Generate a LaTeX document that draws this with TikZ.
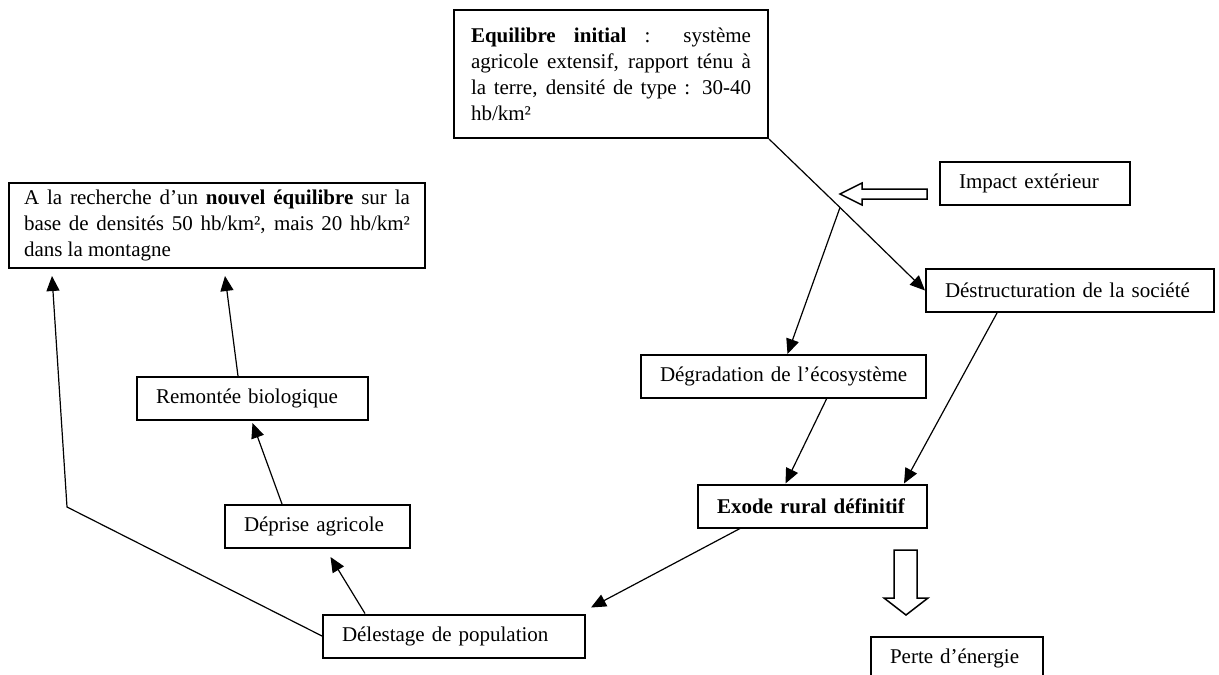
\documentclass[tikz,border=0pt]{standalone}
\usepackage{fontspec}
\setmainfont{Liberation Serif}
\usetikzlibrary{arrows.meta}

\begin{document}
\begin{tikzpicture}[x=1pt, y=-1pt, >={Triangle[length=15pt,width=13pt]},
  box/.style={draw, line width=2pt, inner xsep=19pt, inner ysep=0pt, minimum height=43pt, align=left, font=\fontsize{21}{26}\selectfont},
  para/.style={box, align=justify, execute at begin node={\tolerance=10000\relax\hyphenpenalty=10000\relax}},
  link/.style={line width=1.2pt},
  hollow/.style={draw, line width=1.5pt, fill=white}]
\useasboundingbox (0,0) rectangle (1219,675);

\node [para, text width=280pt, inner xsep=17pt, minimum height=128pt] (eq_0) at (611,74) {\textbf{Equilibre initial} : système\linebreak agricole extensif, rapport ténu à\linebreak la terre, densité de type : 30-40\linebreak hb/km²};
\node [para, text width=386pt, inner xsep=15pt, minimum height=85pt] (eq_1) at (217,225.5) {A la recherche d’un \textbf{nouvel équilibre} sur la base de densités 50 hb/km², mais 20 hb/km² dans la montagne};
\node [box, text width=152pt] (imp) at (1035,183) {\mbox{Impact extérieur}};
\node [box, text width=250pt] (destr) at (1070,290.5) {\mbox{Déstructuration de la société}};
\node [box, text width=247pt] (degr) at (783.5,376.5) {\mbox{Dégradation de l’écosystème}};
\node [box, text width=191pt] (exode) at (812.5,506) {\mbox{\textbf{Exode rural définitif}}};
\node [box, text width=134pt] (perte) at (957,658) {\mbox{Perte d’énergie}};
\node [box, text width=224pt] (deles) at (454,636) {\mbox{Délestage de population}};
\node [box, text width=147pt] (depr) at (317.5,526.5) {\mbox{Déprise agricole}};
\node [box, text width=193pt] (remont) at (252.5,398.5) {\mbox{Remontée biologique}};

\coordinate (j) at (840,207.5);
\coordinate (c_1) at (67,507);

% hollow arrows
\draw [hollow] (927,189) -- (862,189) -- (862,183) -- (840,194) -- (862,205) -- (862,199) -- (927,199) -- cycle;
\draw [hollow] (894,550) -- (917,550) -- (917,598) -- (928,598) -- (906,615) -- (884,598) -- (894,598) -- cycle;

\draw [link] (eq_0.south east) -- (j);
\path [->, link]
(j) edge (destr.west)
edge ([xshift=4pt]degr.north)
([xshift=43pt]degr.south) edge ([xshift=-27pt]exode.north)
([xshift=-73pt]destr.south) edge ([xshift=-24pt]exode.north east)
([xshift=-72.5pt]exode.south) edge ([shift={(5pt,6pt)}]deles.north east)
([xshift=-89pt]deles.north) edge ([shift={(13pt,-8pt)}]depr.south)
([xshift=-35.5pt]depr.north) edge ([yshift=-2pt]remont.south)
([xshift=-14.5pt]remont.north) edge ([shift={(8pt,-7pt)}]eq_1.south);
\draw [->, link] (deles.west) -- (c_1) -- ([shift={(44pt,-7pt)}]eq_1.south west);
\end{tikzpicture}
\end{document}
